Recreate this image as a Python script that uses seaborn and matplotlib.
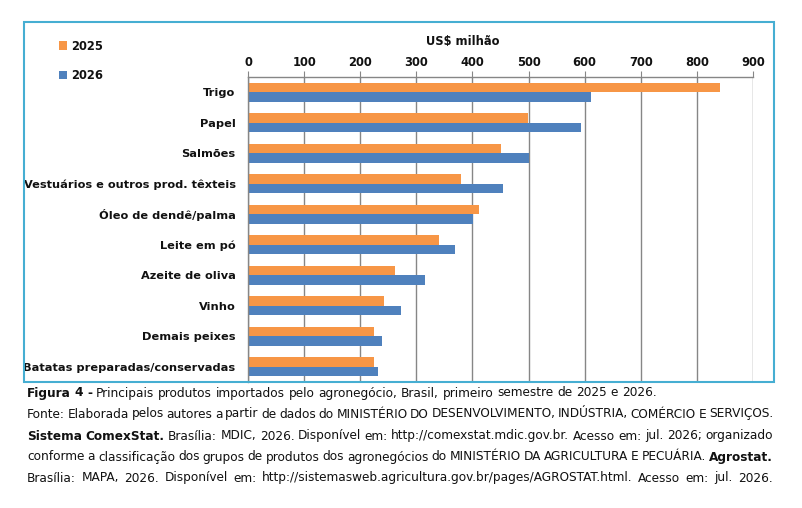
import numpy as np
import pandas as pd
import seaborn as sns
import matplotlib.pyplot as plt
from matplotlib.patches import Rectangle

# data (US$ milhão)
products = ['Trigo', 'Papel', 'Salmões', 'Vestuários e outros prod. têxteis',
            'Óleo de dendê/palma', 'Leite em pó', 'Azeite de oliva', 'Vinho',
            'Demais peixes', 'Batatas preparadas/conservadas']
v2025 = [841, 499, 451, 380, 412, 341, 262, 243, 224, 224]
v2026 = [612, 593, 500, 455, 401, 369, 315, 273, 239, 231]
years = ['2025', '2026']
xticks = [0, 100, 200, 300, 400, 500, 600, 700, 800, 900]

df = pd.DataFrame({'produto': products * 2,
                   'valor': v2025 + v2026,
                   'ano': [years[0]] * len(products) + [years[1]] * len(products)})

sns.set_style('white')
plt.rcParams['font.family'] = ['DejaVu Sans']
plt.rcParams['text.color'] = '#111111'

W, H = 802, 508
fig = plt.figure(figsize=(W / 100, H / 100), dpi=100)
ax = fig.add_axes([248 / W, 1 - 382 / H, (753 - 248) / W, (382 - 77) / H])

colors = {'2025': '#F79646', '2026': '#4F81BD'}
sns.barplot(data=df, y='produto', x='valor', hue='ano', orient='h',
            palette=colors, saturation=1, width=0.62, ax=ax, legend=True,
            linewidth=0)

ax.set_xlim(0, 900)
ax.set_ylim(9.5, -0.5)
ax.set_xticks(xticks)
ax.xaxis.tick_top()
ax.tick_params(axis='x', which='major', direction='out', length=4, color='#868686',
               labelsize=8.3, pad=1.5, labelcolor='#111111')
for t in ax.get_xticklabels():
    t.set_fontweight('bold')
ax.grid(axis='x', color='#868686', linewidth=1)
ax.set_axisbelow(True)

ax.set_yticks(np.arange(len(products)))
ax.set_yticklabels(products, fontweight='bold', fontsize=8.2, color='#111111')
ax.set_yticks(np.arange(-0.5, len(products), 1), minor=True)
ax.tick_params(axis='y', which='major', length=0, pad=9)
ax.tick_params(axis='y', which='minor', length=4, color='#868686', direction='out')
ax.set_xlabel('')
ax.set_ylabel('')

for s in ['right', 'bottom']:
    ax.spines[s].set_visible(False)
for s in ['left', 'top']:
    ax.spines[s].set_color('#868686')
    ax.spines[s].set_linewidth(1)

fig.text(463 / W, 1 - 41 / H, 'US$ milhão', ha='center', va='center',
         fontsize=8.3, fontweight='bold')

# legend in the top left corner
handles, labels = ax.get_legend_handles_labels()
ax.get_legend().remove()
fig.legend(handles, labels, loc='upper left', bbox_to_anchor=(54 / W, 1 - 35 / H),
           frameon=False, prop={'weight': 'bold', 'size': 8.3},
           handlelength=0.75, handleheight=0.75, handletextpad=0.3,
           labelspacing=1.4, borderaxespad=0)

# frame around the chart
fig.add_artist(Rectangle((24 / W, 1 - 382 / H), (774 - 24) / W, (382 - 22) / H,
                         transform=fig.transFigure, fill=False,
                         edgecolor='#46AED2', linewidth=1.5))

# caption below the frame (justified lines like the source text)
caption = [
    [('Figura 4 -', 'bold'),
     ('Principais produtos importados pelo agronegócio, Brasil, primeiro semestre de 2025 e 2026.', 'normal')],
    [('Fonte: Elaborada pelos autores a partir de dados do MINISTÉRIO DO DESENVOLVIMENTO, INDÚSTRIA, COMÉRCIO E SERVIÇOS.', 'normal')],
    [('Sistema ComexStat.', 'bold'),
     ('Brasília: MDIC, 2026. Disponível em: http://comexstat.mdic.gov.br. Acesso em: jul. 2026; organizado', 'normal')],
    [('conforme a classificação dos grupos de produtos dos agronegócios do MINISTÉRIO DA AGRICULTURA E PECUÁRIA.', 'normal'),
     ('Agrostat.', 'bold')],
    [('Brasília: MAPA, 2026. Disponível em: http://sistemasweb.agricultura.gov.br/pages/AGROSTAT.html. Acesso em: jul. 2026.', 'normal')],
]
line_y = [393, 414, 436, 457, 478]
justify = [False, True, True, True, True]
x0, x1 = 27, 773
cap_size = 8.7
renderer = fig.canvas.get_renderer()
for y, parts, just in zip(line_y, caption, justify):
    words = []
    for txt, w in parts:
        for word in txt.split(' '):
            t = fig.text(0, 1 - y / H, word, ha='left', va='center',
                         fontsize=cap_size, fontweight=w)
            words.append(t)
    widths = [t.get_window_extent(renderer).width for t in words]
    if just:
        gap = (x1 - x0 - sum(widths)) / (len(words) - 1)
    else:
        gap = cap_size * 100 / 72 * 0.318
    x = x0
    for t, wd in zip(words, widths):
        t.set_x(x / W)
        x += wd + gap

fig.savefig('out.png', dpi=100)
